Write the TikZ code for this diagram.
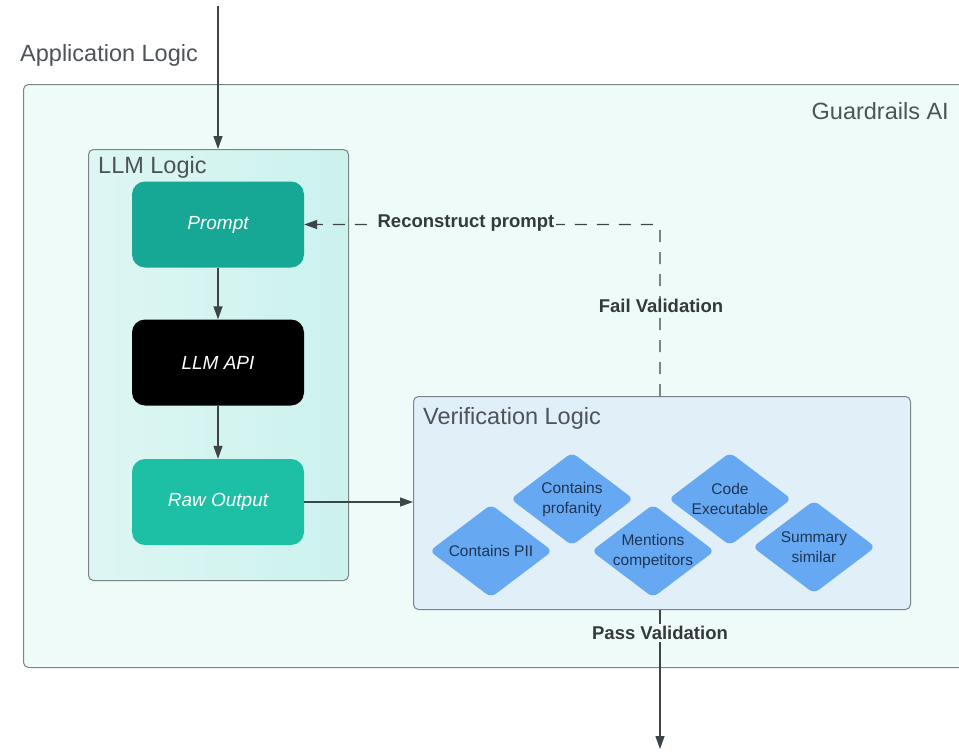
\documentclass[tikz,border=0pt]{standalone}
\usepackage{fontspec}
\setmainfont{Liberation Sans}
\usetikzlibrary{arrows.meta,shapes.geometric}

\definecolor{outerfill}{HTML}{EFFBF9}
\definecolor{llmfillL}{HTML}{DDF6F3}
\definecolor{llmfillR}{HTML}{CCF2EE}
\definecolor{verfill}{HTML}{E1EFF9}
\definecolor{frame}{HTML}{7B8585}
\definecolor{titlegray}{HTML}{4D5356}
\definecolor{labelgray}{HTML}{33393C}
\definecolor{wire}{HTML}{3D4548}
\definecolor{tealdark}{HTML}{17A795}
\definecolor{teallight}{HTML}{1DC0A5}
\definecolor{gemblue}{HTML}{66A8F1}
\definecolor{gemtext}{HTML}{1F3554}

\tikzset{
  container/.style={draw=frame, line width=1pt, rounded corners=5pt, anchor=north west, inner sep=0pt},
  title/.style={text=titlegray, font=\fontsize{23.5}{27}\selectfont, anchor=west, inner sep=0pt},
  stepbox/.style={rounded corners=13pt, minimum width=172pt, minimum height=86pt, inner sep=0pt,
    text=white, font=\fontsize{19}{22}\itshape\selectfont},
  gem/.style={diamond, fill=gemblue, rounded corners=6pt, minimum width=123pt, minimum height=93pt, inner sep=0pt},
  gemlabel/.style={text=gemtext, align=center, font=\fontsize{15.5}{20}\selectfont, inner sep=0pt},
  flow/.style={draw=wire, line width=1.3pt, -{Triangle[length=13pt,width=9pt]}},
  edgelabel/.style={text=labelgray, font=\fontsize{18.5}{21}\bfseries\selectfont, inner sep=2pt},
}

\begin{document}
\begin{tikzpicture}[x=1pt,y=-1pt]
\clip (0,0) rectangle (959,755);
\fill[white] (0,0) rectangle (959,755);

% Guardrails AI container (runs past the right edge)
\node[container, fill=outerfill, minimum width=1050pt, minimum height=583pt] (guard) at (23,84) {};
\node[title, anchor=east] (guardtitle) at (949,111) {Guardrails AI};

% application entry
\node[title] (apptitle) at (20,55) {Application Logic};
\coordinate (entry) at (218,6);

% LLM Logic container
\node[container, left color=llmfillL, right color=llmfillR, minimum width=260pt, minimum height=431pt] (llm) at (88,149) {};
\node[title] (llmtitle) at (98,167) {LLM Logic};

\node[stepbox, fill=tealdark] (prompt) at (218,224.5) {Prompt};
\node[stepbox, fill=black] (api) at (218,362.5) {LLM API};
\node[stepbox, fill=teallight] (raw) at (218,502) {Raw Output};

% Verification Logic container
\node[container, fill=verfill, minimum width=497pt, minimum height=213pt] (ver) at (413,396) {};
\node[title] (vertitle) at (423,418) {Verification Logic};

\node[gem] (pii) at (491,551) {};
\node[gemlabel] (piitext) at (pii) {Contains PII};
\node[gem] (prof) at (572,499) {};
\node[gemlabel] (proftext) at (prof) {Contains\\profanity};
\node[gem] (comp) at (653,551) {};
\node[gemlabel] (comptext) at (comp) {Mentions\\competitors};
\node[gem] (code) at (730,499) {};
\node[gemlabel] (codetext) at (code) {Code\\Executable};
\node[gem] (summ) at (814,547) {};
\node[gemlabel] (summtext) at (summ) {Summary\\similar};

% main flow
\draw[flow] (entry) -- (llm.north -| entry);
\draw[flow] (prompt) -- (api);
\draw[flow] (api) -- (raw);
\draw[flow] (raw.east) -- (raw.east -| ver.west);

% retry loop on failure
\coordinate (loopcorner) at (660,224.5);
\draw[flow, dash pattern=on 12pt off 10pt, rounded corners=6pt]
  (ver.north -| loopcorner) -- (loopcorner) -- (prompt.east);
\node[edgelabel, fill=outerfill] (reclabel) at (466,223) {Reconstruct prompt};
\node[edgelabel] (faillabel) at (661,306) {Fail Validation};

% exit on success
\coordinate (exit) at (660,749);
\draw[flow] (ver.south -| exit) -- (exit);
\node[edgelabel, fill=outerfill] (passlabel) at (660,633) {Pass Validation};
\end{tikzpicture}
\end{document}
